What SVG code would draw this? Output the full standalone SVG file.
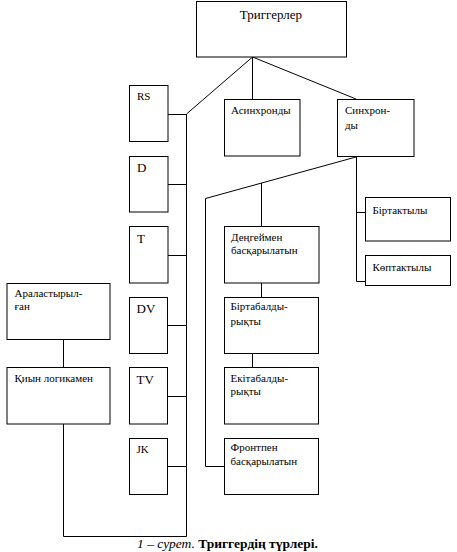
<svg xmlns="http://www.w3.org/2000/svg" width="457" height="552" viewBox="0 0 457 552">
<style>
.b{fill:#fff;stroke:#000;stroke-width:1}
.c{fill:none;stroke:#000;stroke-width:1}
text{font-family:'Liberation Serif','DejaVu Serif',serif;fill:#000}
.s{font-size:11px}
.m{font-size:13px}
</style>
<rect width="457" height="552" fill="#fff"/>
<g id="connectors">
<polyline class="c" points="252.5,57 186.5,114 186.5,536.5 63.5,536.5 63.5,424"/>
<line class="c" x1="252.5" y1="57" x2="252.5" y2="99"/>
<line class="c" x1="252.5" y1="57" x2="356" y2="99"/>
<line class="c" x1="168" y1="114.5" x2="186.5" y2="114.5"/>
<line class="c" x1="168" y1="184.5" x2="186.5" y2="184.5"/>
<line class="c" x1="168" y1="255.5" x2="186.5" y2="255.5"/>
<line class="c" x1="168" y1="325.5" x2="186.5" y2="325.5"/>
<line class="c" x1="168" y1="396.5" x2="186.5" y2="396.5"/>
<line class="c" x1="168" y1="466.5" x2="186.5" y2="466.5"/>
<polyline class="c" points="356,157 205.5,198.5 205.5,466.5 224,466.5"/>
<line class="c" x1="261.5" y1="183" x2="261.5" y2="226"/>
<line class="c" x1="261.5" y1="283" x2="261.5" y2="297"/>
<line class="c" x1="252.5" y1="353" x2="252.5" y2="367"/>
<polyline class="c" points="356.5,157 356.5,281.5 365,281.5"/>
<line class="c" x1="356.5" y1="212.5" x2="365" y2="212.5"/>
<line class="c" x1="63.5" y1="339" x2="63.5" y2="367"/>
</g>
<g id="n-triggerler"><rect class="b" x="196.5" y="1.5" width="150" height="55.5"/><text class="m" x="271" y="19" text-anchor="middle">Триггерлер</text></g>
<g id="n-rs"><rect class="b" x="129.5" y="85.5" width="38.5" height="56"/><text class="s" x="137" y="100">RS</text></g>
<g id="n-d"><rect class="b" x="129.5" y="156.5" width="38.5" height="55.5"/><text class="m" x="137" y="172">D</text></g>
<g id="n-t"><rect class="b" x="129.5" y="226.5" width="38.5" height="56.5"/><text class="m" x="137" y="243">T</text></g>
<g id="n-dv"><rect class="b" x="129.5" y="297.5" width="38" height="56"/><text class="m" x="136.5" y="312.5">DV</text></g>
<g id="n-tv"><rect class="b" x="129.5" y="367.5" width="38" height="56.5"/><text class="m" x="136.5" y="383.5">TV</text></g>
<g id="n-jk"><rect class="b" x="129.5" y="438.5" width="38" height="56"/><text class="s" x="136.5" y="452.5">JK</text></g>
<g id="n-async"><rect class="b" x="224.5" y="99.5" width="75.5" height="56.5"/><text class="s" x="231" y="114">Асинхронды</text></g>
<g id="n-sync"><rect class="b" x="337.5" y="99.5" width="76.5" height="57"/><text class="s" x="345" y="113.5">Синхрон-</text><text class="s" x="345" y="128.5">ды</text></g>
<g id="n-bir"><rect class="b" x="365.5" y="197.5" width="85" height="43.5"/><text class="s" x="372.5" y="213.5">Біртактылы</text></g>
<g id="n-kop"><rect class="b" x="365.5" y="255.5" width="85" height="30"/><text class="s" x="372.5" y="271">Көптактылы</text></g>
<g id="n-deng"><rect class="b" x="224.5" y="226.5" width="94.5" height="56.5"/><text class="s" x="231" y="241">Деңгеймен</text><text class="s" x="231" y="253.5">басқарылатын</text></g>
<g id="n-birtab"><rect class="b" x="224.5" y="297.5" width="94" height="56"/><text class="s" x="230.5" y="309.5">Біртабалды-</text><text class="s" x="230.5" y="325">рықты</text></g>
<g id="n-ekitab"><rect class="b" x="224.5" y="367.5" width="94" height="56.5"/><text class="s" x="230.5" y="382">Екітабалды-</text><text class="s" x="230.5" y="395">рықты</text></g>
<g id="n-front"><rect class="b" x="224.5" y="438.5" width="94" height="56"/><text class="s" x="230.5" y="451">Фронтпен</text><text class="s" x="230.5" y="465">басқарылатын</text></g>
<g id="n-aral"><rect class="b" x="7" y="283.5" width="103" height="56"/><text class="s" x="14.5" y="297">Араластырыл-</text><text class="s" x="14.5" y="310">ған</text></g>
<g id="n-kiyn"><rect class="b" x="7" y="367.5" width="103" height="56.5"/><text class="s" x="14.5" y="382">Қиын логикамен</text></g>
<g id="caption"><text x="137" y="548" font-size="13.5px"><tspan font-style="italic">1 – сурет.</tspan> <tspan font-weight="bold">Триггердің түрлері.</tspan></text></g>
</svg>
